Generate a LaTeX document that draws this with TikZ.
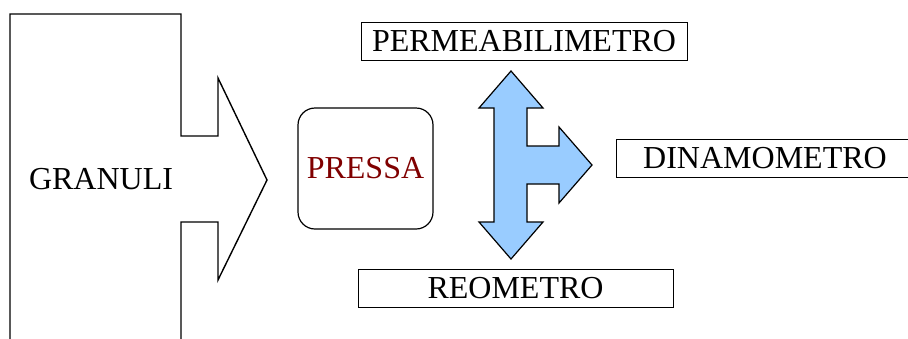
\documentclass[tikz,border=0pt]{standalone}
\usepackage{fontspec}
\setmainfont{Liberation Serif}
\definecolor{azzurro}{HTML}{99CCFF}
\definecolor{granata}{HTML}{800000}
\begin{document}
\begin{tikzpicture}[x=1pt, y=-1pt,
    strumento/.style={rectangle, draw, line width=1pt, minimum width=#1, minimum height=38pt, inner sep=0pt, font=\fontsize{32}{36}\selectfont},
    contorno/.style={line width=1.4pt, line join=miter},
    freccia/.style={draw, fill=azzurro, line width=1.2pt, line join=miter}
]
    \useasboundingbox (0,0) rectangle (908,338);
    \clip (0,0) rectangle (908,338);

    % Granuli: contenitore con freccia verso la pressa
    \draw[contorno] (10,345) -- (10,14) -- (181,14) -- (181,136) -- (218,136) -- (218,78)
        -- (267,180) -- (218,280) -- (218,222) -- (181,222) -- (181,345);
    \node[font=\fontsize{32}{36}\selectfont] (granuli) at (101,179) {GRANULI};

    % Pressa
    \node[draw, rounded corners=17pt, line width=1.2pt, minimum width=135pt, minimum height=121pt,
        text=granata, font=\fontsize{32}{36}\selectfont] (pressa) at (365.5,168.5) {PRESSA};

    % Freccia a tre vie
    \coordinate (snodo) at (511,165);
    \draw[freccia, shift={(snodo)}] (0,-94) -- (32,-57) -- (16,-57) -- (16,-19) -- (48,-19) -- (48,-38)
        -- (81,0) -- (48,38) -- (48,19) -- (16,19) -- (16,57) -- (32,57) -- (0,94)
        -- (-32,57) -- (-17,57) -- (-17,-57) -- (-32,-57) -- cycle;

    % Strumenti di misura
    \node[strumento=326pt] (permeabilimetro) at (524,41) {PERMEABILIMETRO};
    \node[strumento=298pt] (dinamometro) at (765,158.5) {DINAMOMETRO};
    \node[strumento=315pt] (reometro) at (515.5,288.5) {REOMETRO};

\end{tikzpicture}
\end{document}
